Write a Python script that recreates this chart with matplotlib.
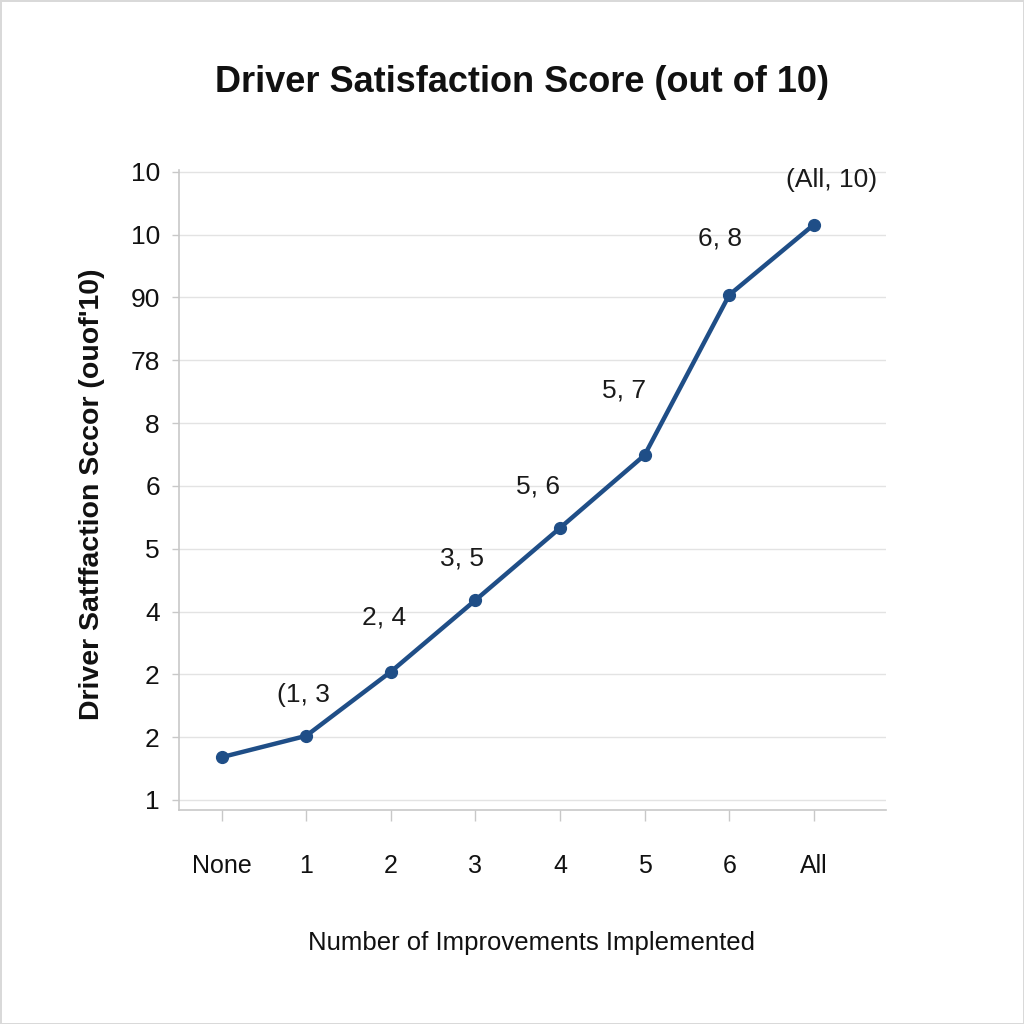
import matplotlib
matplotlib.use('Agg')
import matplotlib.pyplot as plt

# data (y is in tick-slot units, labels as printed)
categories = ['None', '1', '2', '3', '4', '5', '6', 'All']
scores = [0.68, 1.02, 2.04, 3.18, 4.33, 5.49, 8.04, 9.16]
y_tick_labels = ['1', '2', '2', '4', '5', '6', '8', '78', '90', '10', '10']
point_labels = [None, '(1, 3', '2, 4', '3, 5', '5, 6', '5, 7', '6, 8', '(All, 10)']
# label offsets from each point, in pixels
label_offsets = [None, (-3, 41), (-7, 54), (-13, 42), (-22, 41), (-21, 65), (-9, 56), (18, 45)]

line_color = '#1f4e87'
font = 'Liberation Sans'

fig = plt.figure(figsize=(10.24, 10.24), dpi=100)
fig.patch.set_edgecolor('#d9d9d9')
fig.patch.set_linewidth(2)
ax = fig.add_axes([0.175, 0.209, 0.69, 0.625])

x = list(range(len(categories)))
ax.plot(x, scores, color=line_color, linewidth=3.2, marker='o', markersize=8.5, zorder=3)

for xi, yi, lab, off in zip(x, scores, point_labels, label_offsets):
    if lab is None:
        continue
    ax.annotate(lab, (xi, yi), xytext=off, textcoords='offset pixels',
                ha='center', va='center', fontsize=19, family=font, color='#1a1a1a')

ax.set_xlim(-0.5, 7.85)
ax.set_ylim(-0.16, 10.03)
ax.set_xticks(x)
ax.set_xticklabels(categories, family=font, fontsize=18)
ax.set_yticks(range(len(y_tick_labels)))
ax.set_yticklabels(y_tick_labels, family=font, fontsize=19)
ax.tick_params(axis='x', length=8, width=1, color='#c8c8c8', pad=24, labelcolor='#111111')
ax.tick_params(axis='y', length=5, width=1, color='#c8c8c8', pad=9, labelcolor='#111111')

ax.grid(True, axis='y', color='#e3e3e3', linewidth=1)
ax.set_axisbelow(True)
for s in ['top', 'right']:
    ax.spines[s].set_visible(False)
for s in ['left', 'bottom']:
    ax.spines[s].set_color('#c8c8c8')
    ax.spines[s].set_linewidth(1.2)

fig.text(0.51, 0.919, 'Driver Satisfaction Score (out of 10)', ha='center', va='center',
         fontsize=26, fontweight='bold', family=font, color='#111111')
fig.text(0.519, 0.079, 'Number of Improvements Implemented', ha='center', va='center',
         fontsize=18.5, family=font, color='#111111')
fig.text(0.09, 0.517, "Driver Satffaction Sccor (ouof'10)", ha='center', va='center',
         rotation=90, fontsize=20.5, fontweight='bold', family=font, color='#111111')

fig.savefig('out.png', dpi=100)
